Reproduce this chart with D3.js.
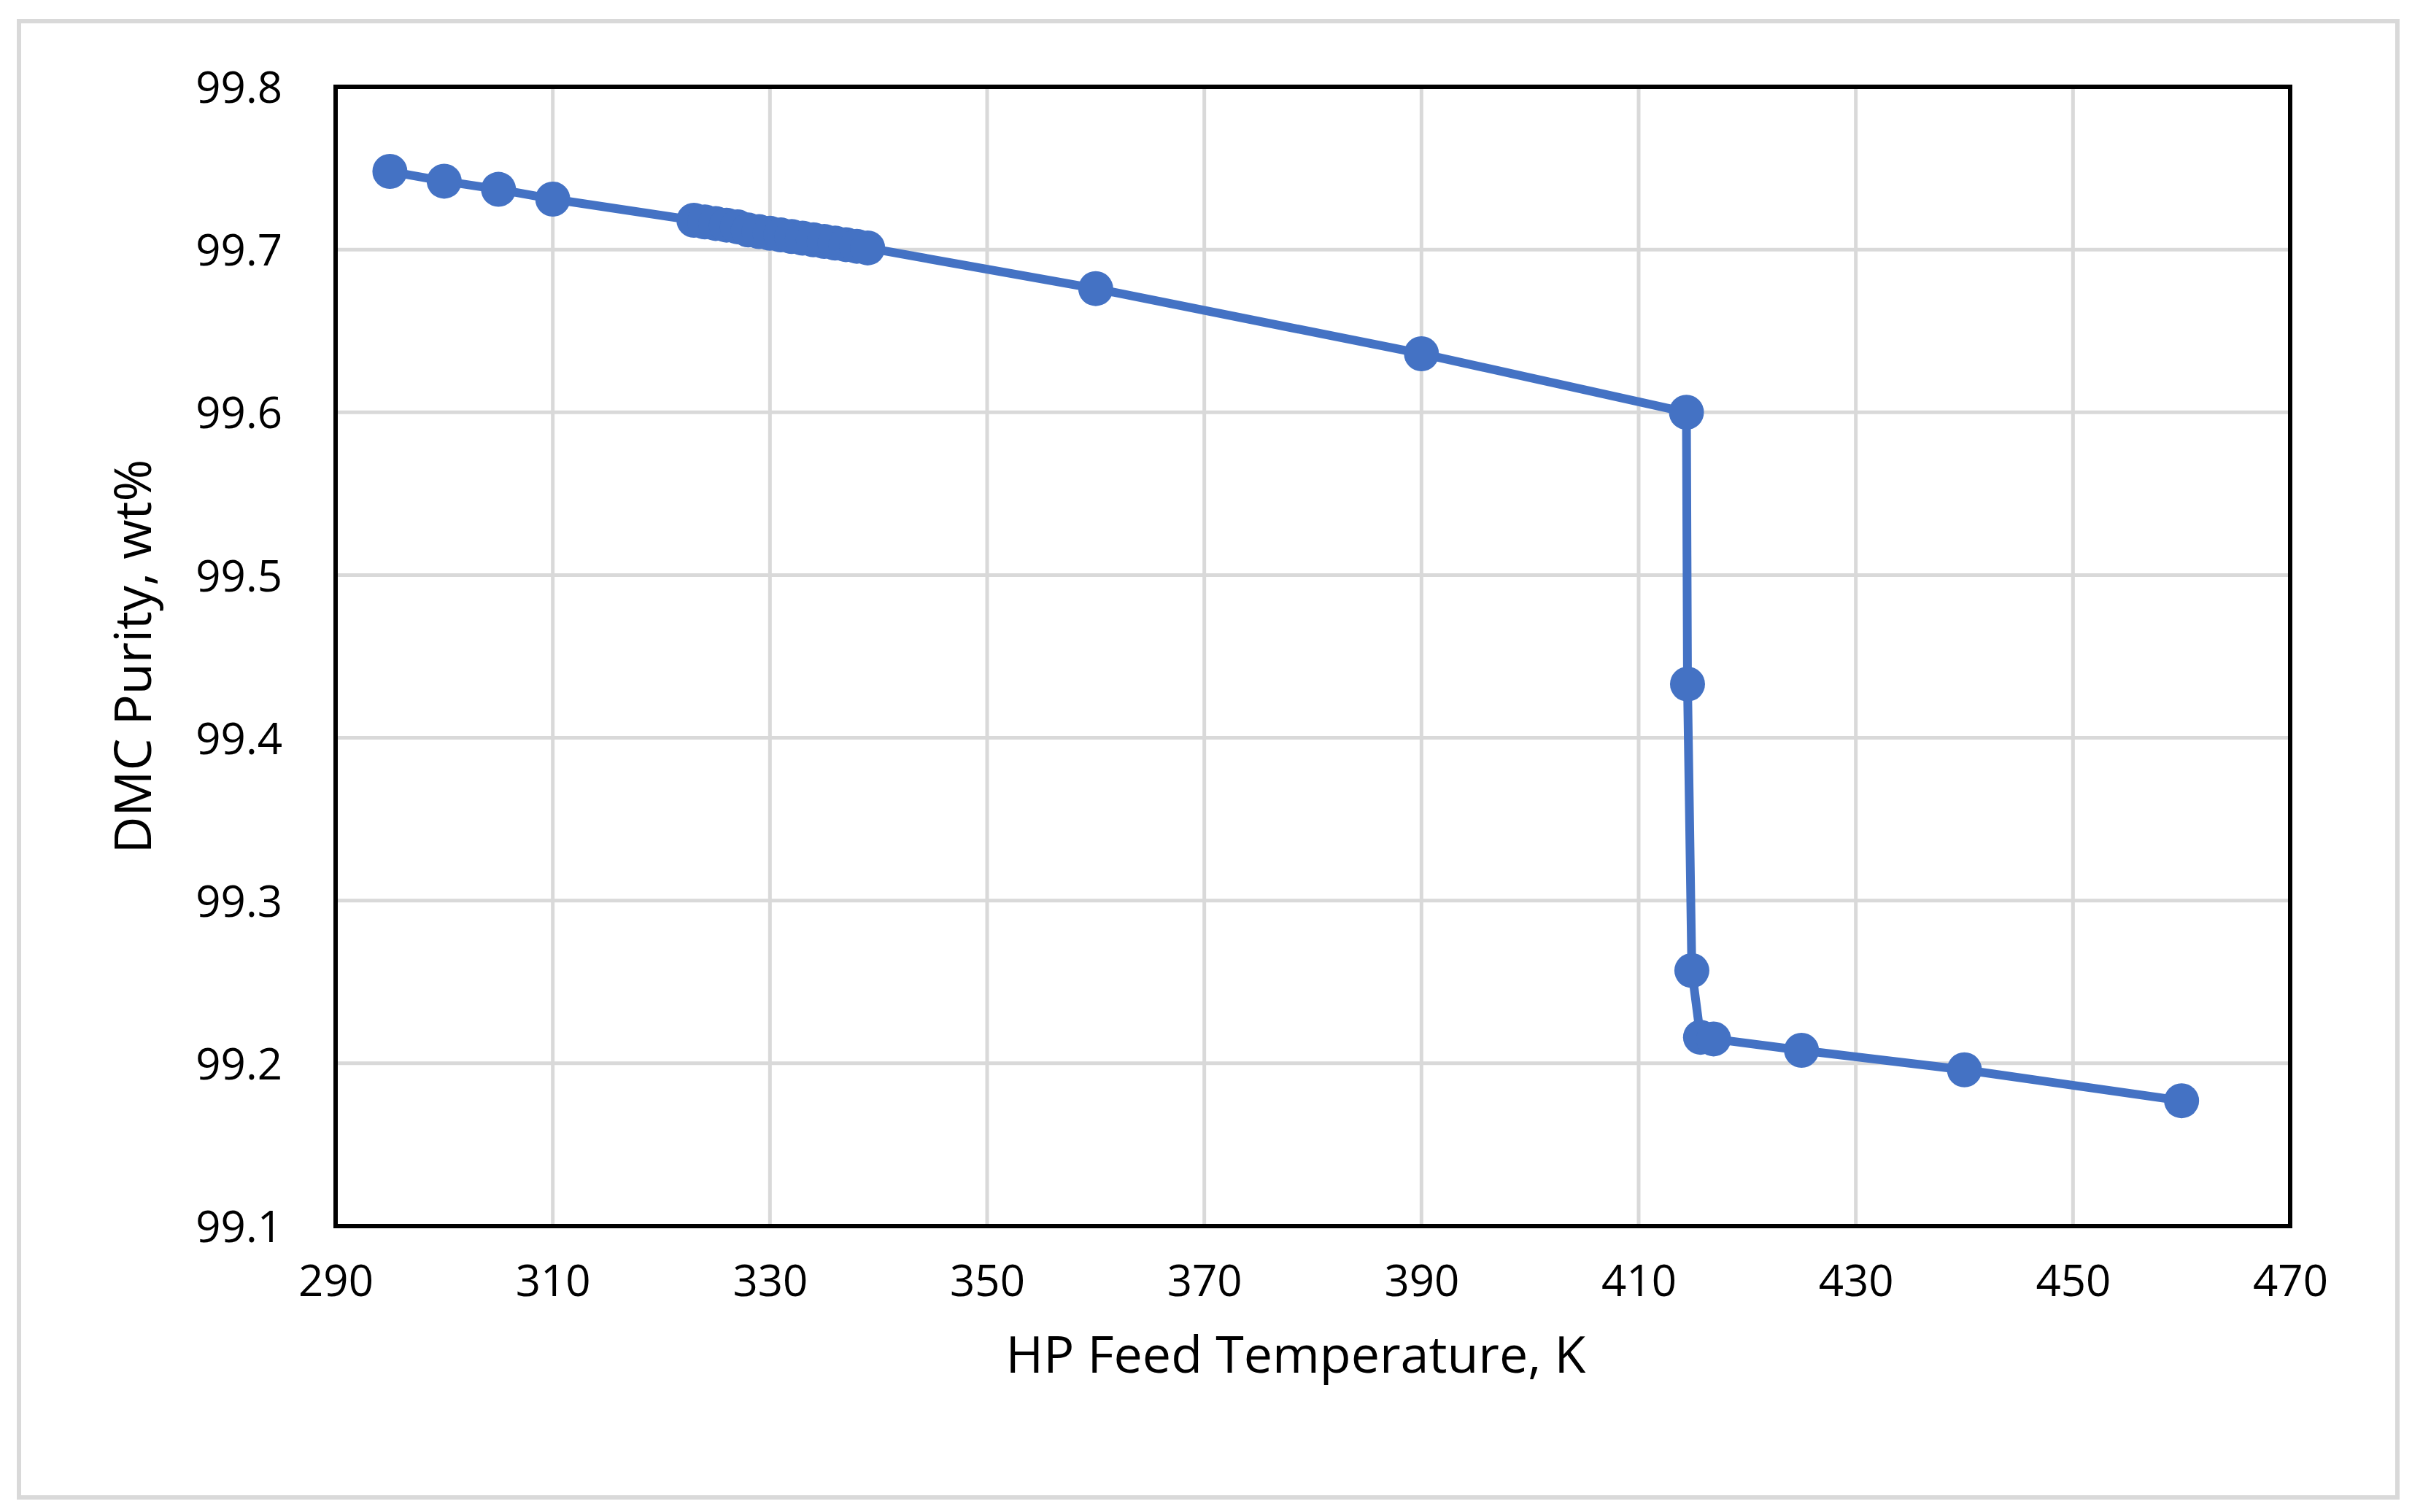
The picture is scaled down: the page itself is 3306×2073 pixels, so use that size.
<!DOCTYPE html>
<html><head><meta charset="utf-8">
<script src="https://cdn.jsdelivr.net/npm/d3@7"></script>
<style>
html,body{margin:0;padding:0;background:#fff;}
svg{display:block;}
text{font-family:"Open Sans","Noto Sans",sans-serif;fill:#000;}
</style></head>
<body>
<svg id="chart" width="3306" height="2073"></svg>
<script>
// Data
const temperatures = [295, 300, 305, 310,
  323, 324, 325, 326, 327, 328, 329, 330, 331, 332, 333, 334, 335, 336, 337, 338, 339,
  360, 390, 414.4, 414.5, 414.9, 415.7, 416.9, 425, 440, 460];
const purities = [99.748, 99.742, 99.737, 99.731,
  99.718, 99.717, 99.716, 99.715, 99.714, 99.712, 99.711, 99.710, 99.709, 99.708, 99.707, 99.706, 99.705, 99.704, 99.703, 99.702, 99.701,
  99.676, 99.636, 99.600, 99.433, 99.257, 99.216, 99.215, 99.208, 99.196, 99.177];
const xTicks = [290, 310, 330, 350, 370, 390, 410, 430, 450, 470];
const yTicks = [99.1, 99.2, 99.3, 99.4, 99.5, 99.6, 99.7, 99.8];
const xTitle = "HP Feed Temperature, K";
const yTitle = "DMC Purity, wt%";

const svg = d3.select("#chart");
const L = 460, R = 3139, T = 119, B = 1681;
const color = "#4472c4";

// outer chart-area border
svg.append("rect").attr("x", 26).attr("y", 29).attr("width", 3260).attr("height", 2024)
  .attr("fill", "#fff").attr("stroke", "#d9d9d9").attr("stroke-width", 6);

const x = d3.scaleLinear().domain([290, 470]).range([L, R]);
const y = d3.scaleLinear().domain([99.1, 99.8]).range([B, T]);

// gridlines
svg.append("g").selectAll("line.v").data(xTicks).join("line")
  .attr("x1", d => x(d)).attr("x2", d => x(d)).attr("y1", T).attr("y2", B)
  .attr("stroke", "#d9d9d9").attr("stroke-width", 5);
svg.append("g").selectAll("line.h").data(yTicks).join("line")
  .attr("x1", L).attr("x2", R).attr("y1", d => y(d)).attr("y2", d => y(d))
  .attr("stroke", "#d9d9d9").attr("stroke-width", 5);

// axes (labels only)
const xAxis = d3.axisBottom(x).tickValues(xTicks).tickSize(0).tickPadding(0).tickFormat(d3.format("d"));
const gx = svg.append("g").attr("transform", `translate(0,${B})`).call(xAxis);
gx.select(".domain").remove();
gx.selectAll("text").attr("font-size", 60).attr("dy", null).attr("y", 96)
  .style("font-family", '"Open Sans","Noto Sans",sans-serif').attr("fill", "#000");

const yAxis = d3.axisLeft(y).tickValues(yTicks).tickSize(0).tickPadding(0).tickFormat(d3.format(".1f"));
const gy = svg.append("g").attr("transform", `translate(${L},0)`).call(yAxis);
gy.select(".domain").remove();
gy.selectAll("text").attr("font-size", 60).attr("x", -73).attr("dy", "0.36em")
  .style("font-family", '"Open Sans","Noto Sans",sans-serif').attr("fill", "#000");

// plot frame
svg.append("rect").attr("x", L).attr("y", T).attr("width", R - L).attr("height", B - T)
  .attr("fill", "none").attr("stroke", "#000").attr("stroke-width", 6);

// series
const pts = temperatures.map((t, i) => [t, purities[i]]);
const line = d3.line().x(d => x(d[0])).y(d => y(d[1]));
svg.append("path").datum(pts).attr("d", line)
  .attr("fill", "none").attr("stroke", color).attr("stroke-width", 12).attr("stroke-linejoin", "round");
svg.append("g").selectAll("circle").data(pts).join("circle")
  .attr("cx", d => x(d[0])).attr("cy", d => y(d[1])).attr("r", 24).attr("fill", color);

// titles
svg.append("text").attr("x", 1776).attr("y", 1882).attr("text-anchor", "middle")
  .attr("font-size", 70).text(xTitle);
svg.append("text").attr("transform", `translate(207,900) rotate(-90)`).attr("text-anchor", "middle")
  .attr("font-size", 70).text(yTitle);
</script>
</body></html>
